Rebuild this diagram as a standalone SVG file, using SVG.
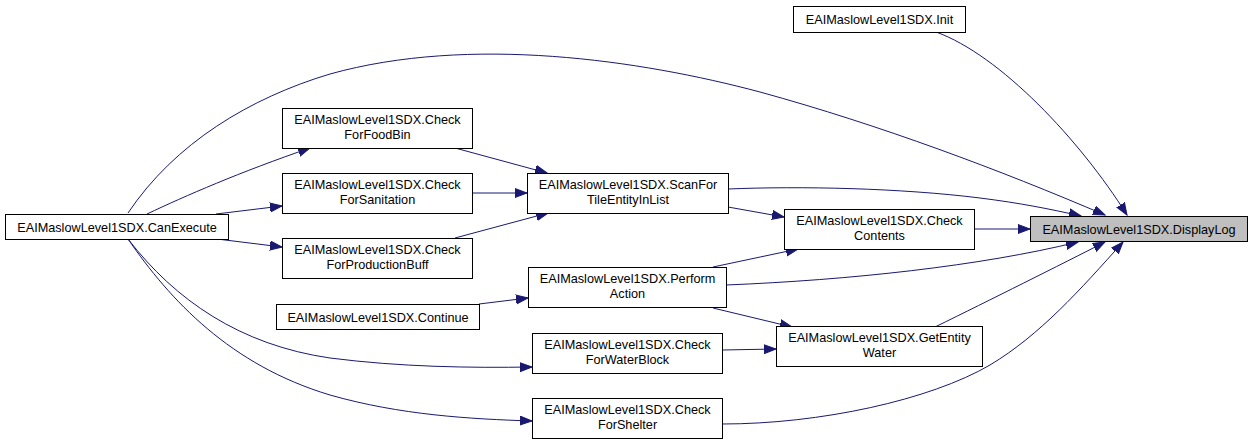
<svg xmlns="http://www.w3.org/2000/svg" width="1252" height="445" viewBox="0 0 1252 445">
<style>
  .box { fill: #ffffff; stroke: #000000; stroke-width: 1; }
  .main { fill: #bfbfbf; stroke: #000000; stroke-width: 1; }
  .lbl { font-family: "Liberation Sans", Arial, sans-serif; font-size: 12.7px; fill: #000000; text-anchor: middle; }
  .edge { fill: none; stroke: #191970; stroke-width: 1; marker-end: url(#arrow); }
</style>
<defs>
  <marker id="arrow" markerUnits="userSpaceOnUse" markerWidth="14" markerHeight="11" refX="12" refY="5" orient="auto">
    <path d="M0,0.5 L12,5 L0,9.5 Z" fill="#191970" stroke="#191970" stroke-width="1"/>
  </marker>
</defs>
<rect width="1252" height="445" fill="#ffffff"/>
<g id="connectors">
  <path class="edge" d="M936,32 C1000,55 1080,140 1127,215"/>
  <path class="edge" d="M128,213 C175,143 250,98 330,74 C470,35 640,60 760,92 C880,125 1000,170 1105,215"/>
  <path class="edge" d="M147,214 C185,196 240,172 310,148"/>
  <path class="edge" d="M216,214 L282,206"/>
  <path class="edge" d="M217,239 L282,247"/>
  <path class="edge" d="M128,239 C175,300 240,345 330,358 C400,367 470,368 532,367"/>
  <path class="edge" d="M128,239 C170,300 230,365 330,395 C400,415 470,419 532,421"/>
  <path class="edge" d="M455,148 L547,173"/>
  <path class="edge" d="M472,193 L527,193"/>
  <path class="edge" d="M455,238 L548,213"/>
  <path class="edge" d="M728,189 C800,186 900,188 980,198 C1020,203 1050,209 1081,216"/>
  <path class="edge" d="M728,207 L784,217"/>
  <path class="edge" d="M974,229 L1030,229"/>
  <path class="edge" d="M713,267 L798,249"/>
  <path class="edge" d="M726,285 C850,280 980,266 1078,242"/>
  <path class="edge" d="M713,308 L792,327"/>
  <path class="edge" d="M479,304 L528,298"/>
  <path class="edge" d="M722,350 L776,349"/>
  <path class="edge" d="M935,327 C990,300 1060,265 1105,242"/>
  <path class="edge" d="M722,424 C820,424 930,400 990,365 C1040,335 1080,290 1123,242"/>
</g>
<g id="n_init"><rect class="box" x="793.5" y="6.5" width="172" height="26"/><text class="lbl" x="879.5" y="24">EAIMaslowLevel1SDX.Init</text></g>
<g id="n_displaylog"><rect class="main" x="1030.5" y="216.5" width="217" height="25"/><text class="lbl" x="1139" y="234">EAIMaslowLevel1SDX.DisplayLog</text></g>
<g id="n_canexecute"><rect class="box" x="5.5" y="214.5" width="223" height="25"/><text class="lbl" x="117" y="231.5">EAIMaslowLevel1SDX.CanExecute</text></g>
<g id="n_foodbin"><rect class="box" x="282.5" y="108.5" width="190" height="40"/><text class="lbl" x="377.5" y="124">EAIMaslowLevel1SDX.Check</text><text class="lbl" x="377.5" y="139">ForFoodBin</text></g>
<g id="n_sanitation"><rect class="box" x="282.5" y="173.5" width="190" height="40"/><text class="lbl" x="377.5" y="189">EAIMaslowLevel1SDX.Check</text><text class="lbl" x="377.5" y="204">ForSanitation</text></g>
<g id="n_production"><rect class="box" x="282.5" y="238.5" width="190" height="40"/><text class="lbl" x="377.5" y="254">EAIMaslowLevel1SDX.Check</text><text class="lbl" x="377.5" y="269">ForProductionBuff</text></g>
<g id="n_continue"><rect class="box" x="276.5" y="304.5" width="203" height="25"/><text class="lbl" x="378" y="321.5">EAIMaslowLevel1SDX.Continue</text></g>
<g id="n_scanfor"><rect class="box" x="527.5" y="173.5" width="201" height="40"/><text class="lbl" x="628" y="189">EAIMaslowLevel1SDX.ScanFor</text><text class="lbl" x="628" y="204">TileEntityInList</text></g>
<g id="n_perform"><rect class="box" x="528.5" y="267.5" width="198" height="40"/><text class="lbl" x="627.5" y="283">EAIMaslowLevel1SDX.Perform</text><text class="lbl" x="627.5" y="298">Action</text></g>
<g id="n_waterblock"><rect class="box" x="532.5" y="333.5" width="190" height="40"/><text class="lbl" x="627.5" y="349">EAIMaslowLevel1SDX.Check</text><text class="lbl" x="627.5" y="364">ForWaterBlock</text></g>
<g id="n_shelter"><rect class="box" x="532.5" y="398.5" width="190" height="40"/><text class="lbl" x="627.5" y="414">EAIMaslowLevel1SDX.Check</text><text class="lbl" x="627.5" y="429">ForShelter</text></g>
<g id="n_checkcontents"><rect class="box" x="784.5" y="209.5" width="190" height="40"/><text class="lbl" x="879.5" y="225">EAIMaslowLevel1SDX.Check</text><text class="lbl" x="879.5" y="240">Contents</text></g>
<g id="n_getentitywater"><rect class="box" x="776.5" y="326.5" width="206" height="40"/><text class="lbl" x="879.5" y="342">EAIMaslowLevel1SDX.GetEntity</text><text class="lbl" x="879.5" y="357">Water</text></g>
</svg>
